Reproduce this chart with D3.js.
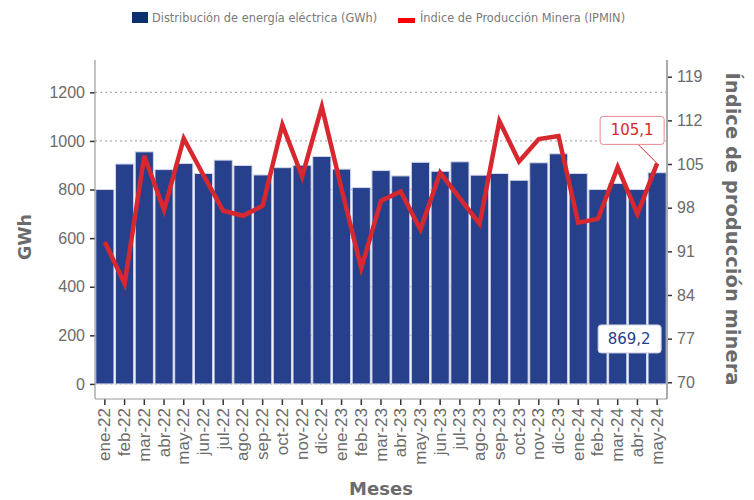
<!DOCTYPE html>
<html>
<head>
<meta charset="utf-8">
<script src="https://cdn.jsdelivr.net/npm/d3@7"></script>
<style>
  body { margin: 0; background: #fff; }
  svg { font-family: "DejaVu Sans", sans-serif; }
</style>
</head>
<body>
<svg id="chart" width="754" height="500"></svg>
<script>
// months shown on the x axis
const meses = ["ene-22","feb-22","mar-22","abr-22","may-22","jun-22","jul-22","ago-22","sep-22","oct-22","nov-22","dic-22",
  "ene-23","feb-23","mar-23","abr-23","may-23","jun-23","jul-23","ago-23","sep-23","oct-23","nov-23","dic-23",
  "ene-24","feb-24","mar-24","abr-24","may-24"];

// distribución de energía eléctrica (GWh)
const energia = [800, 905, 955, 882, 907, 866, 921, 899, 860, 890, 900, 936,
  884, 808, 878, 856, 912, 875, 914, 859, 866, 838, 910, 947,
  866, 800, 825, 800, 869.2];

// índice de producción minera
const ipmin = [92.5, 85.8, 106.3, 97.6, 109.1, 103.2, 97.5, 96.7, 98.3, 111.3, 103.0, 114.2,
  101.0, 88.3, 99.1, 100.6, 94.5, 103.6, 99.5, 95.4, 111.9, 105.4, 109.0, 109.5,
  95.6, 96.2, 104.5, 97.0, 105.1];

const leftTicks = [0, 200, 400, 600, 800, 1000, 1200];
const rightTicks = [70, 77, 84, 91, 98, 105, 112, 119];

const svg = d3.select("#chart");
const mLeft = 95, mRight = 667, mTop = 60, mBottom = 399;
const grey = "#6b6b6b";

let x = d3.scaleBand()
    .domain(meses)
    .range([mLeft, mRight])
    .paddingInner(0.08)
    .paddingOuter(0.04);

let yL = d3.scaleLinear().domain([-62, 1333]).range([mBottom, mTop]);
let yR = d3.scaleLinear().domain([67.32, 121.68]).range([mBottom, mTop]);

// grid
svg.append("g")
    .selectAll("line")
    .data(leftTicks)
    .enter()
    .append("line")
      .attr("x1", mLeft)
      .attr("x2", mRight)
      .attr("y1", d => yL(d))
      .attr("y2", d => yL(d))
      .style("stroke", "#9a9a9a")
      .style("stroke-dasharray", "2,3")
      .style("stroke-width", 1);

// bars
svg.append("g")
    .selectAll("rect")
    .data(energia)
    .enter()
    .append("rect")
      .attr("x", (d, i) => x(meses[i]))
      .attr("width", x.bandwidth())
      .attr("y", d => yL(d))
      .attr("height", d => yL(0) - yL(d))
      .style("fill", "#27408b")
      .style("stroke", "#d3d7ea")
      .style("stroke-width", 1);

// line
let line = d3.line()
    .x((d, i) => x(meses[i]) + x.bandwidth() / 2)
    .y(d => yR(d));

svg.append("path")
    .datum(ipmin)
    .attr("d", line)
    .style("fill", "none")
    .style("stroke", "#d7282f")
    .style("stroke-width", 4.5)
    .style("stroke-linejoin", "miter");

// axes
let axisL = svg.append("g")
    .attr("transform", `translate(${mLeft},0)`)
    .call(d3.axisLeft(yL).tickValues(leftTicks).tickFormat(d3.format("d")).tickSize(5).tickPadding(5));
let axisR = svg.append("g")
    .attr("transform", `translate(${mRight},0)`)
    .call(d3.axisRight(yR).tickValues(rightTicks).tickFormat(d3.format("d")).tickSize(5).tickPadding(5));
let axisB = svg.append("g")
    .attr("transform", `translate(0,${mBottom})`)
    .call(d3.axisBottom(x).tickSize(6).tickPadding(4));

[axisL, axisR, axisB].forEach(a => {
    a.select(".domain").remove();
    a.selectAll(".tick line").style("stroke", "#333").style("stroke-width", 1.5);
    a.selectAll(".tick text").style("fill", grey).style("font-size", "16px");
});

axisB.selectAll(".tick text")
    .style("font-size", "17px")
    .attr("text-anchor", "end")
    .attr("dominant-baseline", "central")
    .attr("transform", "rotate(-90)")
    .attr("x", -9)
    .attr("y", 0)
    .attr("dy", null);

// frame
svg.append("line").attr("x1", mLeft).attr("x2", mLeft).attr("y1", mTop).attr("y2", mBottom)
    .style("stroke", "#9a9a9a").style("stroke-width", 1.2);
svg.append("line").attr("x1", mRight).attr("x2", mRight).attr("y1", mTop).attr("y2", mBottom)
    .style("stroke", "#aaaaaa").style("stroke-width", 2);
svg.append("line").attr("x1", mLeft).attr("x2", mRight).attr("y1", mBottom).attr("y2", mBottom)
    .style("stroke", "#9a9a9a").style("stroke-width", 1.2);

// axis titles
svg.append("text")
    .attr("transform", "translate(25,237) rotate(-90)")
    .attr("text-anchor", "middle")
    .attr("dominant-baseline", "central")
    .style("font-weight", "bold")
    .style("font-size", "17.5px")
    .style("fill", grey)
    .text("GWh");

svg.append("text")
    .attr("transform", "translate(732,229) rotate(90)")
    .attr("text-anchor", "middle")
    .attr("dominant-baseline", "central")
    .style("font-weight", "bold")
    .style("font-size", "19.5px")
    .style("fill", grey)
    .text("Índice de producción minera");

svg.append("text")
    .attr("x", 381)
    .attr("y", 488)
    .attr("text-anchor", "middle")
    .attr("dominant-baseline", "central")
    .style("font-weight", "bold")
    .style("font-size", "18px")
    .style("fill", grey)
    .text("Meses");

// legend
svg.append("rect").attr("x", 132).attr("y", 12).attr("width", 16).attr("height", 11)
    .style("fill", "#0d3170");
svg.append("text").attr("x", 152).attr("y", 22)
    .style("font-size", "11.4px").style("fill", "#7a7a7a")
    .text("Distribución de energía eléctrica (GWh)");
svg.append("rect").attr("x", 398).attr("y", 18).attr("width", 17).attr("height", 5)
    .style("fill", "#ff0000");
svg.append("text").attr("x", 420).attr("y", 22)
    .style("font-size", "11.4px").style("fill", "#7a7a7a")
    .text("Índice de Producción Minera (IPMIN)");

// annotations for the last month
let last = meses.length - 1;
let lx = x(meses[last]) + x.bandwidth() / 2;
let ly = yR(ipmin[last]);
let fmt = v => d3.format(".1f")(v).replace(".", ",");

svg.append("line")
    .attr("x1", lx - 19).attr("y1", ly - 19)
    .attr("x2", lx).attr("y2", ly)
    .style("stroke", "#d7282f").style("stroke-width", 1);
svg.append("rect")
    .attr("x", lx - 57).attr("y", ly - 47).attr("width", 64).attr("height", 28)
    .attr("rx", 3)
    .style("fill", "#fff").style("stroke", "#e68a8e").style("stroke-width", 1);
svg.append("text")
    .attr("x", lx - 25).attr("y", ly - 33)
    .attr("text-anchor", "middle").attr("dominant-baseline", "central")
    .style("font-size", "15px").style("fill", "#d7282f")
    .text(fmt(ipmin[last]));

let by = yL(0) - 45;
svg.append("rect")
    .attr("x", lx - 59).attr("y", by - 14).attr("width", 63).attr("height", 28)
    .attr("rx", 3)
    .style("fill", "#fff").style("stroke", "#c9cde0").style("stroke-width", 1);
svg.append("text")
    .attr("x", lx - 28).attr("y", by)
    .attr("text-anchor", "middle").attr("dominant-baseline", "central")
    .style("font-size", "15px").style("fill", "#27408b")
    .text(fmt(energia[last]));
</script>
</body>
</html>
